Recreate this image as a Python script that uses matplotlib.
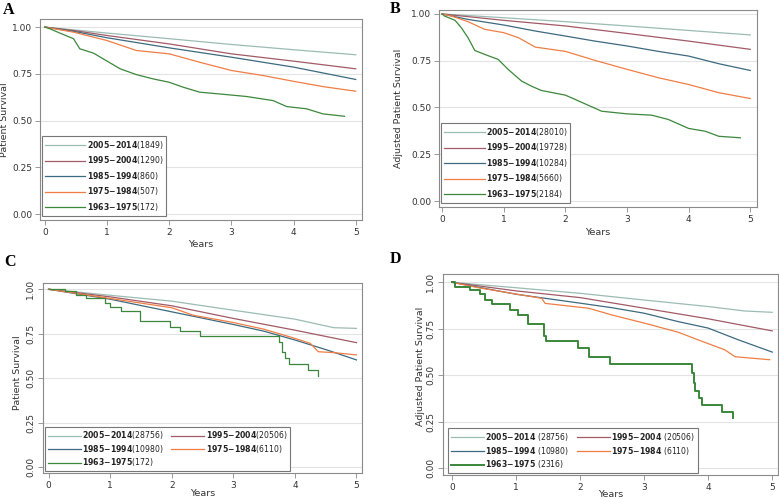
import matplotlib
matplotlib.use('Agg')
import matplotlib.pyplot as plt

# cohorts and colours shared by all four panels
cohorts = ['2005-2014', '1995-2004', '1985-1994', '1975-1984', '1963-1975']
colors = ['#9bbcb4', '#a15a66', '#3c6a80', '#ef7e45', '#3b873b']

# ---- A: patient survival, unadjusted (cohort sizes in legend)
A_n = [1849, 1290, 860, 507, 172]
A_2005_t = [0, 1, 2, 3, 4, 5]
A_2005_s = [1.0, 0.968, 0.938, 0.907, 0.879, 0.852]
A_1995_t = [0, 0.5, 1, 2, 3, 4, 5]
A_1995_s = [1.0, 0.98, 0.955, 0.91, 0.857, 0.818, 0.777]
A_1985_t = [0, 0.5, 1, 2, 3, 4, 5]
A_1985_s = [1.0, 0.975, 0.943, 0.889, 0.839, 0.786, 0.72]
A_1975_t = [0, 0.46, 0.99, 1.47, 2.0, 2.49, 3.0, 3.51, 4.0, 4.47, 5.0]
A_1975_s = [1.0, 0.973, 0.929, 0.875, 0.857, 0.812, 0.768, 0.741, 0.71, 0.682, 0.657]
A_1963_t = [0, 0.08, 0.24, 0.46, 0.56, 0.78, 0.99, 1.21, 1.47, 1.74, 2.0, 2.22, 2.49,
            2.92, 3.24, 3.67, 3.89, 4.21, 4.47, 4.82]
A_1963_s = [1.0, 0.991, 0.968, 0.938, 0.884, 0.861, 0.82, 0.777, 0.746, 0.723, 0.705,
            0.679, 0.652, 0.639, 0.629, 0.607, 0.575, 0.563, 0.536, 0.523]

# ---- B: adjusted patient survival
B_n = [28010, 19728, 10284, 5660, 2184]
B_2005_t = [0, 1, 2, 3, 4, 5]
B_2005_s = [1.0, 0.98, 0.959, 0.936, 0.912, 0.888]
B_1995_t = [0, 1, 2, 3, 4, 5]
B_1995_s = [1.0, 0.966, 0.936, 0.896, 0.855, 0.811]
B_1985_t = [0, 0.42, 1, 1.51, 2, 2.48, 3, 3.51, 4, 4.49, 5]
B_1985_s = [1.0, 0.971, 0.941, 0.909, 0.882, 0.855, 0.829, 0.8, 0.775, 0.734, 0.698]
B_1975_t = [0, 0.15, 0.42, 0.69, 1.0, 1.24, 1.51, 2.0, 2.48, 3.0, 3.51, 4.0, 4.49, 5.0]
B_1975_s = [1.0, 0.989, 0.959, 0.918, 0.9, 0.873, 0.823, 0.8, 0.752, 0.704, 0.659,
            0.623, 0.579, 0.548]
B_1963_t = [0, 0.04, 0.21, 0.31, 0.42, 0.53, 0.69, 0.91, 1.07, 1.29, 1.45, 1.61, 2.0,
            2.16, 2.37, 2.59, 3.0, 3.4, 3.67, 4.0, 4.27, 4.49, 4.84]
B_1963_s = [1.0, 0.989, 0.966, 0.927, 0.873, 0.805, 0.784, 0.757, 0.704, 0.641, 0.614,
            0.591, 0.566, 0.543, 0.512, 0.48, 0.466, 0.459, 0.436, 0.388, 0.373, 0.346,
            0.338]

# ---- C: patient survival
C_n = [28756, 20506, 10980, 6110, 172]
C_2005_t = [0, 1, 2, 3, 4, 4.63, 5]
C_2005_s = [1.0, 0.966, 0.933, 0.882, 0.832, 0.784, 0.78]
C_1995_t = [0, 1, 2, 3, 4, 5]
C_1995_s = [1.0, 0.957, 0.907, 0.836, 0.77, 0.70]
C_1985_t = [0, 1, 2, 3, 3.49, 4, 4.52, 5]
C_1985_s = [1.0, 0.944, 0.873, 0.802, 0.765, 0.715, 0.659, 0.603]
C_1975_t = [0, 1, 2, 2.35, 3, 3.49, 4, 4.25, 4.38, 4.63, 5]
C_1975_s = [1.0, 0.948, 0.896, 0.854, 0.813, 0.776, 0.724, 0.696, 0.649, 0.644, 0.631]
C_1963_t = [0, 0.26, 0.45, 0.61, 0.91, 0.99, 1.18, 1.48, 1.97, 2.13, 2.46, 3.75, 3.79,
            3.84, 3.91, 4.22, 4.38]
C_1963_s = [1.0, 0.989, 0.97, 0.948, 0.925, 0.901, 0.877, 0.821, 0.789, 0.765, 0.739,
            0.705, 0.649, 0.612, 0.578, 0.547, 0.513]

# ---- D: adjusted patient survival
D_n = [28756, 20506, 10980, 6110, 2316]
D_2005_t = [0, 1, 2, 3, 4, 4.57, 5]
D_2005_s = [1.0, 0.971, 0.941, 0.905, 0.87, 0.846, 0.839]
D_1995_t = [0, 1, 2, 3, 4, 5]
D_1995_s = [1.0, 0.954, 0.918, 0.861, 0.804, 0.739]
D_1985_t = [0, 1, 2, 2.49, 3, 3.53, 4, 4.47, 5]
D_1985_s = [1.0, 0.936, 0.888, 0.864, 0.834, 0.789, 0.754, 0.691, 0.625]
D_1975_t = [0, 0.41, 0.93, 1.4, 1.45, 2.13, 2.49, 3.01, 3.53, 3.84, 4.26, 4.42, 4.96]
D_1975_s = [1.0, 0.971, 0.941, 0.914, 0.887, 0.861, 0.825, 0.78, 0.732, 0.691, 0.637,
            0.60, 0.584]
D_1963_t = [0, 0.04, 0.28, 0.43, 0.51, 0.62, 0.90, 1.03, 1.19, 1.43, 1.47, 1.97, 2.13,
            2.46, 3.74, 3.77, 3.8, 3.85, 3.9, 3.93, 4.21, 4.38]
D_1963_s = [1.0, 0.977, 0.959, 0.936, 0.905, 0.884, 0.852, 0.825, 0.775, 0.709, 0.682,
            0.646, 0.60, 0.561, 0.513, 0.46, 0.414, 0.378, 0.343, 0.343, 0.304, 0.27]

yticks = [0.0, 0.25, 0.5, 0.75, 1.0]
xticks = [0, 1, 2, 3, 4, 5]

GRAY = '#8a8a8a'
TXT = '#333333'


def legend_label(cohort, n, gap=''):
    a, b = cohort.split('-')
    return r'$\mathbf{%s{-}%s}$%s(%d)' % (a, b, gap, n)


def draw_panel(ax, series, counts, ylabel, steps_last, rotate_y, xlim, ylim,
               ylab_pos, xlab_pos, two_col, gap='', last_lw=0.9):
    handles = []
    for i, (t, s) in enumerate(series):
        ds = 'steps-post' if (steps_last and i == 4) else 'default'
        lw = last_lw if i == 4 else 0.9
        h, = ax.plot(t, s, color=colors[i], lw=lw, drawstyle=ds)
        handles.append(h)
    ax.set_xlim(*xlim)
    ax.set_ylim(*ylim)
    ax.set_xticks(xticks)
    ax.set_yticks(yticks)
    ax.set_yticklabels(['%.2f' % v for v in yticks])
    ax.grid(axis='y', color='#e3e3e3', lw=0.8)
    ax.set_axisbelow(True)
    for sp in ax.spines.values():
        sp.set_color(GRAY)
        sp.set_linewidth(0.8)
    ax.tick_params(length=3.5, width=0.6, color=GRAY, labelsize=6.5,
                   labelcolor=TXT, pad=2)
    if rotate_y:
        ax.tick_params(axis='y', labelrotation=90)
        for lab in ax.get_yticklabels():
            lab.set_va('center')
    ax.set_ylabel(ylabel, fontsize=6.8, color=TXT)
    ax.yaxis.set_label_coords(*ylab_pos)
    ax.set_xlabel('Years', fontsize=6.8, color=TXT)
    ax.xaxis.set_label_coords(*xlab_pos)

    labels = [legend_label(c, n, gap) for c, n in zip(cohorts, counts)]
    if two_col:
        order = [0, 2, 4, 1, 3]
        leg = ax.legend([handles[k] for k in order], [labels[k] for k in order],
                        ncol=2, loc='lower left', bbox_to_anchor=two_col,
                        borderaxespad=0, fontsize=5.6, handlelength=4.3,
                        handletextpad=0.15, labelspacing=0.2, columnspacing=0.9,
                        borderpad=0.35, fancybox=False, framealpha=1)
    else:
        leg = ax.legend(handles, labels, loc='lower left',
                        bbox_to_anchor=(0.006, 0.02), borderaxespad=0,
                        fontsize=5.6, handlelength=5.2, handletextpad=0.15,
                        labelspacing=0.45, borderpad=0.4, fancybox=False,
                        framealpha=1)
    leg.get_frame().set_edgecolor('#777777')
    leg.get_frame().set_linewidth(0.8)
    for txt in leg.get_texts():
        txt.set_color('#222222')


fig = plt.figure(figsize=(7.79, 4.99), dpi=100)

axA = fig.add_axes([0.0513, 0.559, 0.4133, 0.4028])
draw_panel(axA, [(A_2005_t, A_2005_s), (A_1995_t, A_1995_s), (A_1985_t, A_1985_s),
                 (A_1975_t, A_1975_s), (A_1963_t, A_1963_s)],
           A_n, 'Patient Survival', False, False, (-0.08, 5.1), (-0.032, 1.043),
           (-0.095, 0.5), (0.5, -0.1), None)

axB = fig.add_axes([0.5636, 0.5852, 0.4082, 0.3954])
draw_panel(axB, [(B_2005_t, B_2005_s), (B_1995_t, B_1995_s), (B_1985_t, B_1985_s),
                 (B_1975_t, B_1975_s), (B_1963_t, B_1963_s)],
           B_n, 'Adjusted Patient Survival', False, False, (-0.05, 5.11),
           (-0.032, 1.023), (-0.112, 0.5), (0.5, -0.105), None)

axC = fig.add_axes([0.0552, 0.0521, 0.4095, 0.3808])
draw_panel(axC, [(C_2005_t, C_2005_s), (C_1995_t, C_1995_s), (C_1985_t, C_1985_s),
                 (C_1975_t, C_1975_s), (C_1963_t, C_1963_s)],
           C_n, 'Patient Survival', True, True, (-0.09, 5.09), (-0.032, 1.035),
           (-0.066, 0.53), (0.5, -0.085), (0.006, 0.01))

axD = fig.add_axes([0.5687, 0.0481, 0.43, 0.4028])
draw_panel(axD, [(D_2005_t, D_2005_s), (D_1995_t, D_1995_s), (D_1985_t, D_1985_s),
                 (D_1975_t, D_1975_s), (D_1963_t, D_1963_s)],
           D_n, 'Adjusted Patient Survival', True, True, (-0.145, 5.09),
           (-0.036, 1.045), (-0.054, 0.54), (0.5, -0.077), (0.015, 0.01),
           gap=' ', last_lw=1.4)

for letter, x, y in [('A', 0.004, 0.995), ('B', 0.5, 0.998), ('C', 0.006, 0.49),
                     ('D', 0.5, 0.497)]:
    fig.text(x, y, letter, family='Liberation Serif', weight='bold', fontsize=11.5,
             va='top', ha='left')

fig.savefig('out.png', dpi=100)
